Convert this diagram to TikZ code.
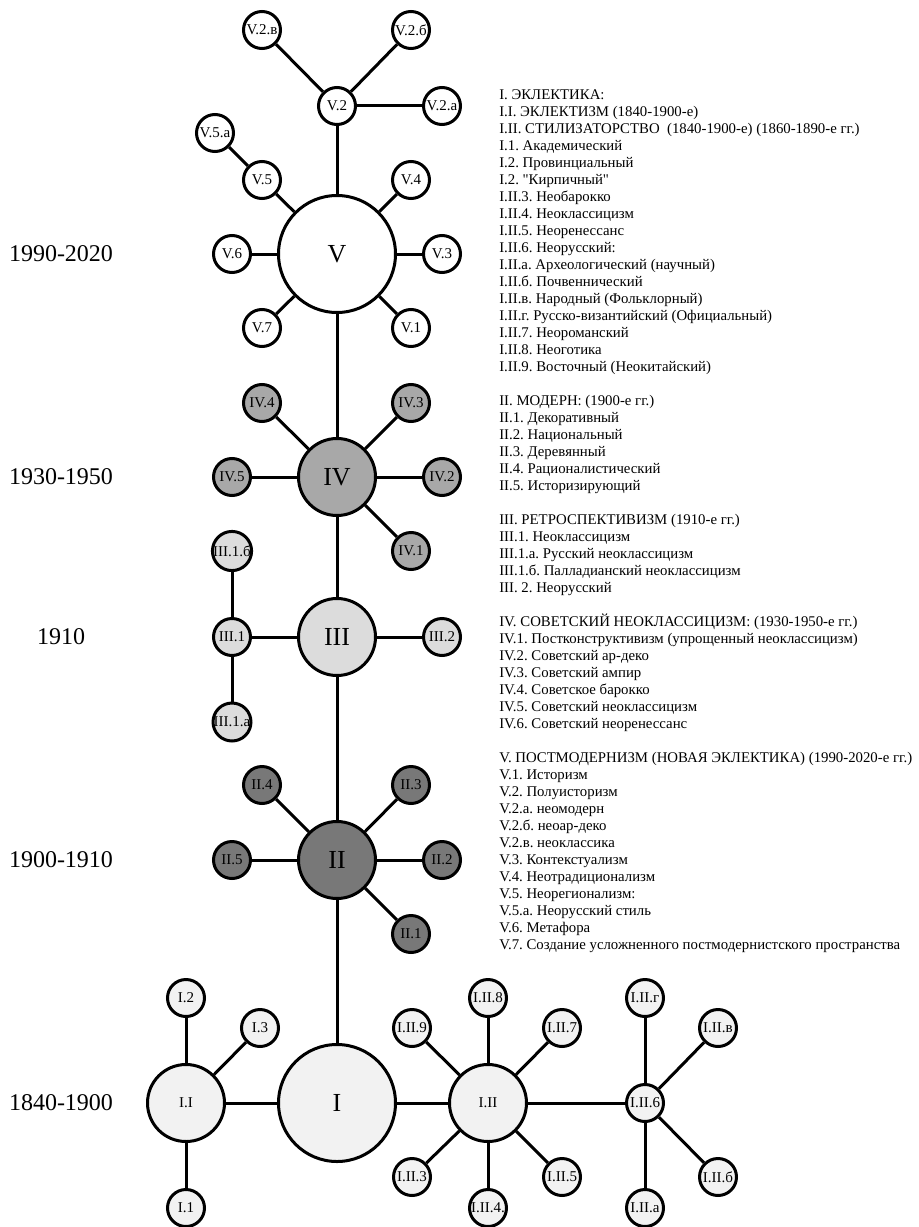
\documentclass[tikz,border=0pt]{standalone}
\usepackage{fontspec}
\setmainfont{Liberation Serif}
\usepackage{xcolor}
\definecolor{fivecolor}{RGB}{255,255,255}
\definecolor{fourcolor}{RGB}{168,168,168}
\definecolor{threecolor}{RGB}{220,220,220}
\definecolor{twocolor}{RGB}{120,120,120}
\definecolor{onecolor}{RGB}{242,242,242}
\tikzset{
  cellnode/.style={shape=circle, draw=black, line width=2.25pt, text=black, inner sep=0pt},
  bigcell/.style={cellnode, minimum size=87.75pt, font=\fontsize{19.5}{22}\selectfont},
  midcell/.style={cellnode, minimum size=57.75pt, font=\fontsize{11.25}{13}\selectfont},
  leafcell/.style={cellnode, minimum size=27.75pt, font=\fontsize{11.25}{13}\selectfont},
  bigtext/.style={font=\fontsize{19.5}{22}\selectfont},
  link/.style={line width=2.25pt},
  yearlabel/.style={font=\fontsize{18}{20}\selectfont},
  legend/.style={align=left, inner sep=0pt, anchor=north west, font=\fontsize{11.1}{12.75}\selectfont\frenchspacing}
}

\begin{document}
\begin{tikzpicture}[x=0.75pt, y=-0.75pt]
        \useasboundingbox (0,0) rectangle (918,1227);

        \node[yearlabel] (y5) at (61,254) {1990-2020};
        \node[yearlabel] (y4) at (61,477) {1930-1950};
        \node[yearlabel] (y3) at (61,637) {1910};
        \node[yearlabel] (y2) at (61,860) {1900-1910};
        \node[yearlabel] (y1) at (61,1103) {1840-1900};

        \node[bigcell, fill=fivecolor] (v) at (337,254) {V};
        \node[leafcell, fill=fivecolor] (v2) at (337,106) {V.2};
        \node[leafcell, fill=fivecolor] (v2a) at (442,106) {V.2.а};
        \node[leafcell, fill=fivecolor] (v2b) at (411,30) {V.2.б};
        \node[leafcell, fill=fivecolor] (v2v) at (262,30) {V.2.в};
        \node[leafcell, fill=fivecolor] (v5a) at (215,133) {V.5.а};
        \node[leafcell, fill=fivecolor] (v5) at (262,180) {V.5};
        \node[leafcell, fill=fivecolor] (v4) at (411,180) {V.4};
        \node[leafcell, fill=fivecolor] (v6) at (232,254) {V.6};
        \node[leafcell, fill=fivecolor] (v3) at (442,254) {V.3};
        \node[leafcell, fill=fivecolor] (v7) at (262,328) {V.7};
        \node[leafcell, fill=fivecolor] (v1) at (411,328) {V.1};

        \node[midcell, bigtext, fill=fourcolor] (iv) at (337,477) {IV};
        \node[leafcell, fill=fourcolor] (iv4) at (262,403) {IV.4};
        \node[leafcell, fill=fourcolor] (iv3) at (411,403) {IV.3};
        \node[leafcell, fill=fourcolor] (iv5) at (232,477) {IV.5};
        \node[leafcell, fill=fourcolor] (iv2) at (442,477) {IV.2};
        \node[leafcell, fill=fourcolor] (iv1) at (411,551) {IV.1};

        \node[midcell, bigtext, fill=threecolor] (iii) at (337,637) {III};
        \node[leafcell, fill=threecolor] (iii1b) at (232,551) {III.1.б};
        \node[leafcell, fill=threecolor] (iii1) at (232,637) {III.1};
        \node[leafcell, fill=threecolor] (iii1a) at (232,722) {III.1.а};
        \node[leafcell, fill=threecolor] (iii2) at (442,637) {III.2};

        \node[midcell, bigtext, fill=twocolor] (ii) at (337,860) {II};
        \node[leafcell, fill=twocolor] (ii4) at (262,785) {II.4};
        \node[leafcell, fill=twocolor] (ii3) at (411,785) {II.3};
        \node[leafcell, fill=twocolor] (ii5) at (232,860) {II.5};
        \node[leafcell, fill=twocolor] (ii2) at (442,860) {II.2};
        \node[leafcell, fill=twocolor] (ii1) at (411,934) {II.1};

        \node[bigcell, fill=onecolor] (i) at (337,1103) {I};
        \node[midcell, fill=onecolor] (ia) at (186,1103) {I.I};
        \node[leafcell, fill=onecolor] (i2) at (186,998) {I.2};
        \node[leafcell, fill=onecolor] (i3) at (260,1028) {I.3};
        \node[leafcell, fill=onecolor] (i1) at (186,1208) {I.1};
        \node[midcell, fill=onecolor] (ib) at (488,1103) {I.II};
        \node[leafcell, fill=onecolor] (ib8) at (488,998) {I.II.8};
        \node[leafcell, fill=onecolor] (ib9) at (412,1028) {I.II.9};
        \node[leafcell, fill=onecolor] (ib7) at (562,1028) {I.II.7};
        \node[leafcell, fill=onecolor] (ib3) at (412,1177) {I.II.3};
        \node[leafcell, fill=onecolor] (ib4) at (488,1208) {I.II.4.};
        \node[leafcell, fill=onecolor] (ib5) at (562,1177) {I.II.5};
        \node[leafcell, fill=onecolor] (ib6) at (645,1103) {I.II.6};
        \node[leafcell, fill=onecolor] (ib6g) at (645,998) {I.II.г};
        \node[leafcell, fill=onecolor] (ib6v) at (718,1028) {I.II.в};
        \node[leafcell, fill=onecolor] (ib6b) at (718,1177) {I.II.б};
        \node[leafcell, fill=onecolor] (ib6a) at (645,1208) {I.II.а};

        \draw[link] (v) -- (v2);
        \draw[link] (v2) -- (v2a);
        \draw[link] (v2) -- (v2b);
        \draw[link] (v2) -- (v2v);
        \draw[link] (v) -- (v5);
        \draw[link] (v5) -- (v5a);
        \draw[link] (v) -- (v4);
        \draw[link] (v) -- (v6);
        \draw[link] (v) -- (v3);
        \draw[link] (v) -- (v7);
        \draw[link] (v) -- (v1);
        \draw[link] (v) -- (iv);

        \draw[link] (iv) -- (iv4);
        \draw[link] (iv) -- (iv3);
        \draw[link] (iv) -- (iv5);
        \draw[link] (iv) -- (iv2);
        \draw[link] (iv) -- (iv1);
        \draw[link] (iv) -- (iii);

        \draw[link] (iii) -- (iii1);
        \draw[link] (iii1) -- (iii1b);
        \draw[link] (iii1) -- (iii1a);
        \draw[link] (iii) -- (iii2);
        \draw[link] (iii) -- (ii);

        \draw[link] (ii) -- (ii4);
        \draw[link] (ii) -- (ii3);
        \draw[link] (ii) -- (ii5);
        \draw[link] (ii) -- (ii2);
        \draw[link] (ii) -- (ii1);
        \draw[link] (ii) -- (i);

        \draw[link] (i) -- (ia);
        \draw[link] (ia) -- (i2);
        \draw[link] (ia) -- (i3);
        \draw[link] (ia) -- (i1);
        \draw[link] (i) -- (ib);
        \draw[link] (ib) -- (ib8);
        \draw[link] (ib) -- (ib9);
        \draw[link] (ib) -- (ib7);
        \draw[link] (ib) -- (ib3);
        \draw[link] (ib) -- (ib4);
        \draw[link] (ib) -- (ib5);
        \draw[link] (ib) -- (ib6);
        \draw[link] (ib6) -- (ib6g);
        \draw[link] (ib6) -- (ib6v);
        \draw[link] (ib6) -- (ib6b);
        \draw[link] (ib6) -- (ib6a);

        \node[legend] (key) at (499,89) {
I. ЭКЛЕКТИКА:\\
I.I. ЭКЛЕКТИЗМ (1840-1900-е)\\
I.II. СТИЛИЗАТОРСТВО\ \ (1840-1900-е) (1860-1890-е гг.)\\
I.1. Академический\\
I.2. Провинциальный\\
I.2. \textquotedbl Кирпичный\textquotedbl\\
I.II.3. Необарокко\\
I.II.4. Неоклассицизм\\
I.II.5. Неоренессанс\\
I.II.6. Неорусский:\\
I.II.а. Археологический (научный)\\
I.II.б. Почвеннический\\
I.II.в. Народный (Фольклорный)\\
I.II.г. Русско-византийский (Официальный)\\
I.II.7. Неороманский\\
I.II.8. Неоготика\\
I.II.9. Восточный (Неокитайский)\\[\baselineskip]
II. МОДЕРН: (1900-е гг.)\\
II.1. Декоративный\\
II.2. Национальный\\
II.3. Деревянный\\
II.4. Рационалистический\\
II.5. Историзирующий\\[\baselineskip]
III. РЕТРОСПЕКТИВИЗМ (1910-е гг.)\\
III.1. Неоклассицизм\\
III.1.а. Русский неоклассицизм\\
III.1.б. Палладианский неоклассицизм\\
III. 2. Неорусский\\[\baselineskip]
IV. СОВЕТСКИЙ НЕОКЛАССИЦИЗМ: (1930-1950-е гг.)\\
IV.1. Постконструктивизм (упрощенный неоклассицизм)\\
IV.2. Советский ар-деко\\
IV.3. Советский ампир\\
IV.4. Советское барокко\\
IV.5. Советский неоклассицизм\\
IV.6. Советский неоренессанс\\[\baselineskip]
V. ПОСТМОДЕРНИЗМ (НОВАЯ ЭКЛЕКТИКА) (1990-2020-е гг.)\\
V.1. Историзм\\
V.2. Полуисторизм\\
V.2.а. неомодерн\\
V.2.б. неоар-деко\\
V.2.в. неоклассика\\
V.3. Контекстуализм\\
V.4. Неотрадиционализм\\
V.5. Неорегионализм:\\
V.5.а. Неорусский стиль\\
V.6. Метафора\\
V.7. Создание усложненного постмодернистского пространства};
    \end{tikzpicture}
\end{document}
